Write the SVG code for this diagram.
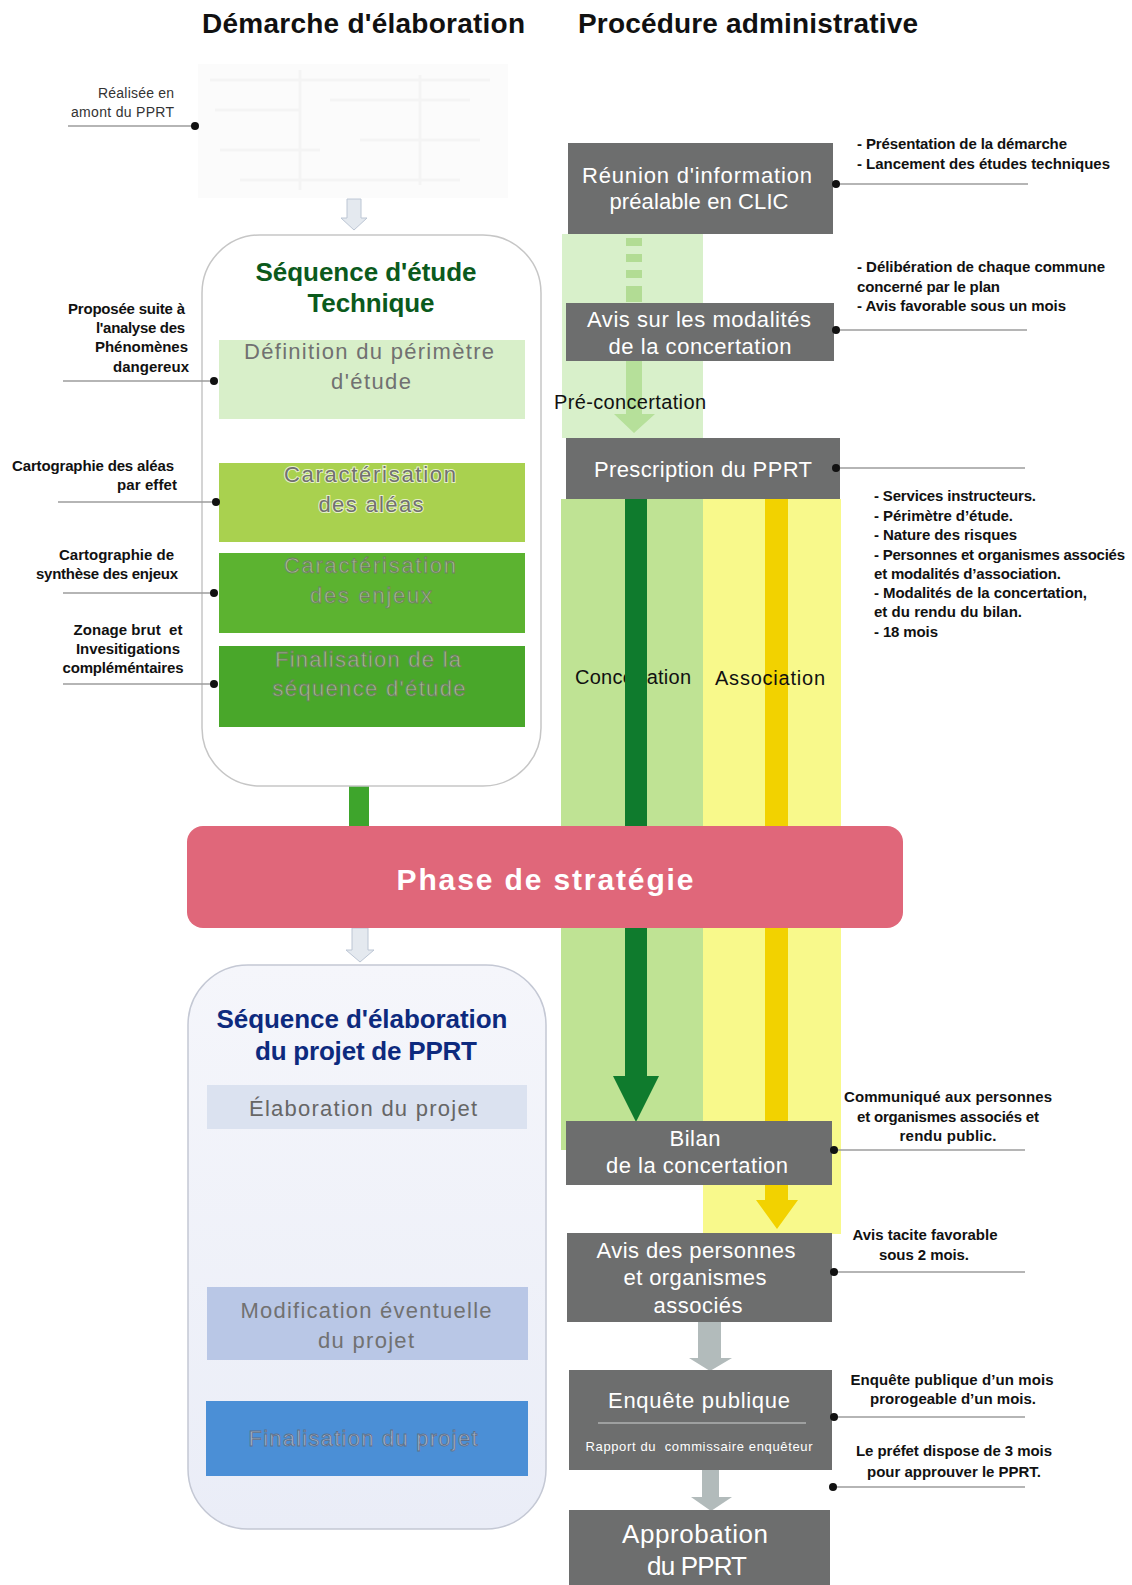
<svg xmlns="http://www.w3.org/2000/svg" width="1132" height="1585" viewBox="0 0 1132 1585">
<defs>
<style>
.title{font-family:"Liberation Sans",Arial,sans-serif;font-weight:bold;font-size:28px;fill:#111}
.ann{font-family:"Liberation Sans",Arial,sans-serif;font-weight:bold;font-size:15px;fill:#111}
.annr{font-family:"Liberation Sans",Arial,sans-serif;font-size:14px;fill:#333}
.bx{font-family:"Liberation Sans",Arial,sans-serif;font-size:22px;fill:#fff;text-anchor:middle}
.lb{font-family:"Liberation Sans",Arial,sans-serif;font-size:22px;fill:#717171;text-anchor:middle}
.lbg{font-family:"Liberation Sans",Arial,sans-serif;font-size:22px;fill:#a9bf95;stroke:#6f7f62;stroke-width:0.8;text-anchor:middle}
.lbb{font-family:"Liberation Sans",Arial,sans-serif;font-size:22px;fill:#a7b6cc;stroke:#5f6f88;stroke-width:0.8;text-anchor:middle}
.band{font-family:"Liberation Sans",Arial,sans-serif;font-size:20px;fill:#111}
.gray{fill:#6d6e6e}
.lead{stroke:#9c9c9c;stroke-width:1.6;fill:none}
.dot{fill:#111}
.faint{fill:#e4e9ef;stroke:#bcc6d4;stroke-width:1}
.garrow{fill:#b2bbbb}
</style>
<linearGradient id="gBlue" x1="0" y1="0" x2="0" y2="1">
<stop offset="0" stop-color="#f5f6fb"/><stop offset="1" stop-color="#eaedf7"/>
</linearGradient>
</defs>
<rect width="1132" height="1585" fill="#fff"/>

<!-- column titles -->
<text class="title" x="202" y="33" textLength="323">Démarche d'élaboration</text>
<text class="title" x="578" y="33" textLength="340">Procédure administrative</text>

<!-- background bands -->
<g id="bands">
<rect x="562" y="234" width="141" height="204" fill="#d8f0ca"/>
<rect x="561" y="499" width="142" height="651" fill="#bfe394"/>
<rect x="703" y="499" width="138" height="735" fill="#f8f98b"/>
<text class="band" x="575" y="684" textLength="116">Concertation</text>
</g>

<!-- faint map image -->
<g id="top-image" opacity="0.35">
<rect x="198" y="64" width="310" height="134" fill="#f6f6f6"/>
<path d="M210 80 H490 M215 110 H300 M330 100 H470 M220 150 H320 M360 140 H480 M240 180 H460 M300 70 V190 M420 75 V185" stroke="#e2e2e2" stroke-width="3" fill="none"/>
</g>

<!-- connectors -->
<g id="connectors">
<path class="faint" d="M347 199 H361 V218 H367 L354 230 L341 218 H347 Z"/>
<rect x="349" y="786" width="20" height="41" fill="#3ea52c"/>
<path class="faint" d="M352 928 H368 V950 H374 L360 962 L346 950 H352 Z"/>
<g fill="#b2dc94">
<rect x="626" y="238" width="16" height="8"/>
<rect x="626" y="254" width="16" height="8"/>
<rect x="626" y="270" width="16" height="8"/>
<rect x="626" y="286" width="16" height="16"/>
</g>
<path d="M626 361 H642 V414 H655 L634 433 L614 414 H626 Z" fill="#b6e09a"/>
<path d="M625 499 H647 V1076 H659 L636 1122 L613 1076 H625 Z" fill="#0f7b2d"/>
<path d="M765 499 H788 V1200 H798 L777 1229 L756 1200 H765 Z" fill="#f2d200"/>
<path class="garrow" d="M698 1322 H721 V1358 H732 L710 1371 L689 1358 H698 Z"/>
<path class="garrow" d="M702 1470 H719 V1497 H732 L711 1511 L691 1497 H702 Z"/>
</g>
<text class="band" x="554" y="409" textLength="152">Pré-concertation</text>
<text class="band" x="715" y="685" textLength="110">Association</text>

<!-- left column nodes -->
<g id="seq-technique">
<rect x="202" y="235" width="339" height="551" rx="58" fill="#fff" stroke="#c6c6c6" stroke-width="1.5"/>
<text x="366" y="281" font-family="Liberation Sans, Arial, sans-serif" font-weight="bold" font-size="26" fill="#0b5a1c" text-anchor="middle" textLength="221">Séquence d'étude</text>
<text x="371" y="312" font-family="Liberation Sans, Arial, sans-serif" font-weight="bold" font-size="26" fill="#0b5a1c" text-anchor="middle" textLength="127">Technique</text>
</g>
<g id="definition-perimetre">
<rect x="219" y="340" width="306" height="79" fill="#d8efc9"/>
<text class="lb" x="369" y="359" textLength="250">Définition du périmètre</text>
<text class="lb" x="371" y="389" textLength="80">d'étude</text>
</g>
<g id="caracterisation-aleas">
<rect x="219" y="463" width="306" height="79" fill="#a9d14f"/>
<text class="lb" x="370" y="482" textLength="172" stroke="#e6f0c8" stroke-width="2" paint-order="stroke">Caractérisation</text>
<text class="lb" x="371" y="512" textLength="105" stroke="#e6f0c8" stroke-width="2" paint-order="stroke">des aléas</text>
</g>
<g id="caracterisation-enjeux">
<rect x="219" y="553" width="306" height="80" fill="#5cb330"/>
<text class="lbg" x="370" y="573" textLength="172">Caractérisation</text>
<text class="lbg" x="371" y="603" textLength="122">des enjeux</text>
</g>
<g id="finalisation-sequence">
<rect x="219" y="646" width="306" height="81" fill="#49a72a"/>
<text class="lbg" x="368" y="667" textLength="186">Finalisation de la</text>
<text class="lbg" x="369" y="696" textLength="193">séquence d'étude</text>
</g>

<g id="phase-strategie">
<rect x="187" y="826" width="716" height="102" rx="16" fill="#e0677a"/>
<text x="545" y="890" font-family="Liberation Sans, Arial, sans-serif" font-weight="bold" font-size="30" fill="#fff" text-anchor="middle" textLength="297">Phase de stratégie</text>
</g>

<g id="seq-elaboration">
<rect x="188" y="965" width="358" height="564" rx="60" fill="url(#gBlue)" stroke="#c4c8d4" stroke-width="1.5"/>
<text x="362" y="1028" font-family="Liberation Sans, Arial, sans-serif" font-weight="bold" font-size="26" fill="#0d2a7e" text-anchor="middle" textLength="291">Séquence d'élaboration</text>
<text x="366" y="1060" font-family="Liberation Sans, Arial, sans-serif" font-weight="bold" font-size="26" fill="#0d2a7e" text-anchor="middle" textLength="222">du projet de PPRT</text>
</g>
<g id="elaboration-projet">
<rect x="207" y="1085" width="320" height="44" fill="#dbe2f0"/>
<text class="lb" x="363" y="1116" style="fill:#666" textLength="228">Élaboration du projet</text>
</g>
<g id="modification-projet">
<rect x="207" y="1287" width="321" height="73" fill="#b9c7e6"/>
<text class="lb" x="366" y="1318" textLength="251">Modification éventuelle</text>
<text class="lb" x="366" y="1348" textLength="96">du projet</text>
</g>
<g id="finalisation-projet">
<rect x="206" y="1401" width="322" height="75" fill="#4b8fd6"/>
<text class="lbb" x="363" y="1446" textLength="229">Finalisation du projet</text>
</g>

<!-- right column nodes -->
<g id="reunion-clic">
<rect class="gray" x="568" y="143" width="265" height="91"/>
<text class="bx" x="697" y="183" textLength="230">Réunion d'information</text>
<text class="bx" x="699" y="209" textLength="179">préalable en CLIC</text>
</g>
<g id="avis-modalites">
<rect class="gray" x="566" y="303" width="268" height="58"/>
<text class="bx" x="699" y="327" textLength="224">Avis sur les modalités</text>
<text class="bx" x="700" y="354" textLength="183">de la concertation</text>
</g>
<g id="prescription">
<rect class="gray" x="566" y="438" width="274" height="61"/>
<text class="bx" x="703" y="477" textLength="218">Prescription du PPRT</text>
</g>
<g id="bilan">
<rect class="gray" x="566" y="1121" width="266" height="64"/>
<text class="bx" x="695" y="1146" textLength="51">Bilan</text>
<text class="bx" x="697" y="1173" textLength="182">de la concertation</text>
</g>
<g id="avis-personnes">
<rect class="gray" x="567" y="1233" width="265" height="89"/>
<text class="bx" x="696" y="1258" textLength="199">Avis des personnes</text>
<text class="bx" x="695" y="1285" textLength="143">et organismes</text>
<text class="bx" x="698" y="1313" textLength="89">associés</text>
</g>
<g id="enquete-publique">
<rect class="gray" x="569" y="1370" width="263" height="100"/>
<text class="bx" x="699" y="1408" textLength="182">Enquête publique</text>
<line x1="598" y1="1423" x2="806" y2="1423" stroke="#9ea0a0" stroke-width="2"/>
<text class="bx" x="699" y="1451" style="font-size:13px" textLength="227">Rapport du&#160; commissaire enquêteur</text>
</g>
<g id="approbation">
<rect class="gray" x="569" y="1510" width="261" height="75"/>
<text class="bx" x="695" y="1543" style="font-size:26px" textLength="146">Approbation</text>
<text class="bx" x="697" y="1575" style="font-size:26px" textLength="100">du PPRT</text>
</g>

<!-- left annotations -->
<g id="annotations-left">
<text class="annr" x="174" y="98" text-anchor="end" textLength="76">Réalisée en</text>
<text class="annr" x="174" y="117" text-anchor="end" textLength="103">amont du PPRT</text>
<line class="lead" x1="68" y1="126" x2="195" y2="126"/><circle class="dot" cx="195" cy="126" r="4"/>

<text class="ann" x="185" y="314" text-anchor="end" textLength="117">Proposée suite à</text>
<text class="ann" x="185" y="333" text-anchor="end" textLength="89">l'analyse des</text>
<text class="ann" x="188" y="352" text-anchor="end" textLength="93">Phénomènes</text>
<text class="ann" x="189" y="372" text-anchor="end" textLength="76">dangereux</text>
<line class="lead" x1="63" y1="381" x2="214" y2="381"/><circle class="dot" cx="214" cy="381" r="4"/>

<text class="ann" x="174" y="471" text-anchor="end" textLength="162">Cartographie des aléas</text>
<text class="ann" x="177" y="490" text-anchor="end" textLength="60">par effet</text>
<line class="lead" x1="58" y1="502" x2="216" y2="502"/><circle class="dot" cx="216" cy="502" r="4"/>

<text class="ann" x="174" y="560" text-anchor="end" textLength="115">Cartographie de</text>
<text class="ann" x="178" y="579" text-anchor="end" textLength="142">synthèse des enjeux</text>
<line class="lead" x1="63" y1="593" x2="214" y2="593"/><circle class="dot" cx="214" cy="593" r="4"/>

<text class="ann" x="128" y="635" text-anchor="middle" textLength="109" xml:space="preserve">Zonage brut  et</text>
<text class="ann" x="128" y="654" text-anchor="middle" textLength="104">Invesitigations</text>
<text class="ann" x="123" y="673" text-anchor="middle" textLength="121">compléméntaires</text>
<line class="lead" x1="63" y1="684" x2="214" y2="684"/><circle class="dot" cx="214" cy="684" r="4"/>
</g>

<!-- right annotations -->
<g id="annotations-right">
<text class="ann" x="857" y="149" textLength="210">- Présentation de la démarche</text>
<text class="ann" x="857" y="169" textLength="253">- Lancement des études techniques</text>
<line class="lead" x1="836" y1="184" x2="1028" y2="184"/><circle class="dot" cx="836" cy="184" r="4"/>

<text class="ann" x="857" y="272" textLength="248">- Délibération de chaque commune</text>
<text class="ann" x="857" y="292" textLength="143">concerné par le plan</text>
<text class="ann" x="857" y="311" textLength="209">- Avis favorable sous un mois</text>
<line class="lead" x1="836" y1="330" x2="1027" y2="330"/><circle class="dot" cx="836" cy="330" r="4"/>

<line class="lead" x1="836" y1="468" x2="1025" y2="468"/><circle class="dot" cx="836" cy="468" r="4"/>
<text class="ann" x="874" y="501" textLength="162">- Services instructeurs.</text>
<text class="ann" x="874" y="521" textLength="139">- Périmètre d’étude.</text>
<text class="ann" x="874" y="540" textLength="143">- Nature des risques</text>
<text class="ann" x="874" y="560" textLength="251">- Personnes et organismes associés</text>
<text class="ann" x="874" y="579" textLength="187">et modalités d’association.</text>
<text class="ann" x="874" y="598" textLength="213">- Modalités de la concertation,</text>
<text class="ann" x="874" y="617" textLength="148">et du rendu du bilan.</text>
<text class="ann" x="874" y="637" textLength="64">- 18 mois</text>

<text class="ann" x="948" y="1102" text-anchor="middle" textLength="208">Communiqué aux personnes</text>
<text class="ann" x="948" y="1122" text-anchor="middle" textLength="182">et organismes associés et</text>
<text class="ann" x="948" y="1141" text-anchor="middle" textLength="97">rendu public.</text>
<line class="lead" x1="834" y1="1150" x2="1025" y2="1150"/><circle class="dot" cx="834" cy="1150" r="4"/>

<text class="ann" x="925" y="1240" text-anchor="middle" textLength="145">Avis tacite favorable</text>
<text class="ann" x="924" y="1260" text-anchor="middle" textLength="90">sous 2 mois.</text>
<line class="lead" x1="834" y1="1272" x2="1025" y2="1272"/><circle class="dot" cx="834" cy="1272" r="4"/>

<text class="ann" x="952" y="1385" text-anchor="middle" textLength="203">Enquête publique d’un mois</text>
<text class="ann" x="953" y="1404" text-anchor="middle" textLength="166">prorogeable d’un mois.</text>
<line class="lead" x1="834" y1="1417" x2="1025" y2="1417"/><circle class="dot" cx="834" cy="1417" r="4"/>

<text class="ann" x="954" y="1456" text-anchor="middle" textLength="196">Le préfet dispose de 3 mois</text>
<text class="ann" x="954" y="1477" text-anchor="middle" textLength="174">pour approuver le PPRT.</text>
<line class="lead" x1="833" y1="1487" x2="1025" y2="1487"/><circle class="dot" cx="833" cy="1487" r="4"/>
</g>
</svg>
